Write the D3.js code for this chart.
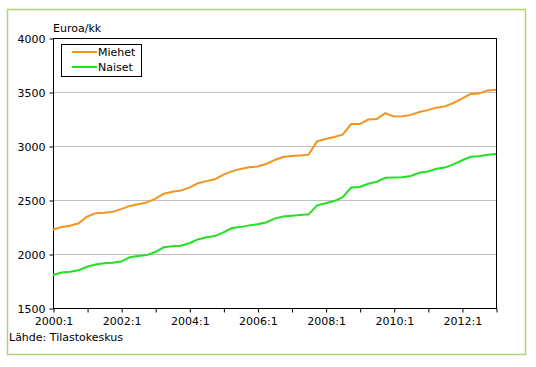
<!DOCTYPE html>
<html>
<head>
<meta charset="utf-8">
<script src="https://cdn.jsdelivr.net/npm/d3@7"></script>
<style>
  body { margin: 0; background: #fff; }
  svg { font-family: "DejaVu Sans", Verdana, sans-serif; font-size: 11px; }
</style>
</head>
<body>
<svg id="viz"></svg>
<script>
var width = 536;
var height = 367;

// quarterly series 2000:1 .. 2013:1
var years = [2000, 2001, 2002, 2003, 2004, 2005, 2006, 2007, 2008, 2009, 2010, 2011, 2012, 2013];
var miehet = [2225, 2250, 2262, 2285, 2345, 2378, 2383, 2390, 2415, 2445, 2460, 2478, 2510,
    2558, 2577, 2587, 2615, 2655, 2675, 2692, 2735, 2765, 2788, 2804, 2810, 2833,
    2870, 2898, 2907, 2913, 2920, 3043, 3065, 3083, 3105, 3203, 3203, 3245, 3250,
    3305, 3274, 3275, 3288, 3315, 3332, 3355, 3367, 3398, 3438, 3481, 3485, 3515, 3520];
var naiset = [1805, 1828, 1836, 1850, 1882, 1902, 1914, 1920, 1930, 1970, 1982, 1990, 2018,
    2062, 2072, 2076, 2100, 2135, 2155, 2166, 2200, 2240, 2249, 2265, 2276, 2292,
    2328, 2347, 2354, 2360, 2367, 2450, 2470, 2490, 2526, 2615, 2620, 2650, 2669,
    2705, 2709, 2710, 2722, 2752, 2763, 2790, 2800, 2830, 2866, 2900, 2906, 2918, 2925];
var yTicks = [1500, 2000, 2500, 3000, 3500, 4000];
var series = [
    { name: "Miehet", values: miehet, color: "#f0961e" },
    { name: "Naiset", values: naiset, color: "#22e022" }
];

var svg = d3.select("#viz").attr("width", width).attr("height", height);

// outer frame
svg.append("rect")
    .attr("x", 7.5).attr("y", 9.5)
    .attr("width", 518).attr("height", 345)
    .attr("fill", "none")
    .attr("stroke", "#b4d270")
    .attr("stroke-width", 1.5);

var plotL = 53, plotR = 496, plotT = 38, plotB = 308;

var x = d3.scaleLinear().domain([0, miehet.length - 1]).range([plotL, plotR]);
var y = d3.scaleLinear().domain([1500, 4000]).range([plotB, plotT]);

// gridlines
svg.append("g")
    .selectAll("line")
    .data(yTicks.slice(1, -1))
    .enter().append("line")
    .attr("x1", plotL).attr("x2", plotR)
    .attr("y1", function (d) { return Math.round(y(d)) + 0.5; })
    .attr("y2", function (d) { return Math.round(y(d)) + 0.5; })
    .attr("stroke", "#c0c0c0");

// y axis
var yAxis = d3.axisLeft(y).tickValues(yTicks).tickSize(4).tickPadding(4).tickFormat(d3.format("d"));
var gy = svg.append("g").attr("transform", "translate(" + (plotL + 0.5) + ",0.5)").call(yAxis);

// x axis
var tickIdx = years.map(function (d, i) { return i * 4; });
var xAxis = d3.axisBottom(x).tickValues(tickIdx).tickSize(4).tickPadding(5)
    .tickFormat(function (d) {
        var yr = years[d / 4];
        return (d % 8 === 0 && yr < 2013) ? yr + ":1" : "";
    });
var gx = svg.append("g").attr("transform", "translate(0.5," + (plotB + 0.5) + ")").call(xAxis);

[gx, gy].forEach(function (g) {
    g.select(".domain").remove();
    g.selectAll("line").attr("stroke", "#000");
    g.selectAll("text").attr("fill", "#000").attr("font-family", "DejaVu Sans, Verdana, sans-serif").attr("font-size", 11);
});

// plot frame
svg.append("rect")
    .attr("x", plotL + 0.5).attr("y", plotT + 0.5)
    .attr("width", plotR - plotL).attr("height", plotB - plotT)
    .attr("fill", "none")
    .attr("stroke", "#000");

// lines
var line = d3.line()
    .x(function (d, i) { return x(i); })
    .y(function (d) { return y(d); });

svg.append("g")
    .selectAll("path")
    .data(series)
    .enter().append("path")
    .attr("d", function (d) { return line(d.values); })
    .attr("fill", "none")
    .attr("stroke", function (d) { return d.color; })
    .attr("stroke-width", 2);

// legend
var legend = svg.append("g");
legend.append("rect")
    .attr("x", 61.5).attr("y", 44.5)
    .attr("width", 80).attr("height", 32)
    .attr("fill", "#fff").attr("stroke", "#000");
var items = legend.selectAll("g.item")
    .data(series)
    .enter().append("g")
    .attr("transform", function (d, i) { return "translate(0," + (52 + i * 15) + ")"; });
items.append("line")
    .attr("x1", 72).attr("x2", 97)
    .attr("stroke", function (d) { return d.color; })
    .attr("stroke-width", 2);
items.append("text")
    .attr("x", 98).attr("dy", "0.35em")
    .text(function (d) { return d.name; });

// titles
svg.append("text").attr("x", 53).attr("y", 32).text("Euroa/kk");
svg.append("text").attr("x", 9).attr("y", 341).text("Lähde: Tilastokeskus");
</script>
</body>
</html>
